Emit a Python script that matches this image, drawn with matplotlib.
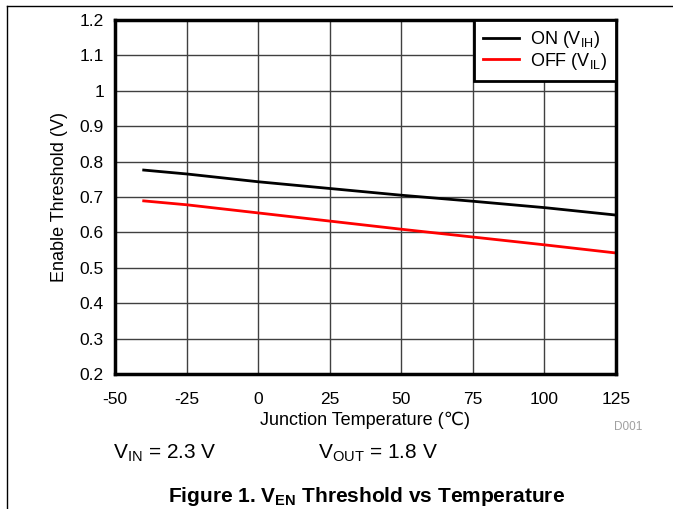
import matplotlib
matplotlib.use("Agg")
import matplotlib.pyplot as plt
from matplotlib.lines import Line2D
from matplotlib.ticker import FuncFormatter

plt.rcParams['font.family'] = ['Liberation Sans', 'DejaVu Sans']
plt.rcParams['axes.unicode_minus'] = False
plt.rcParams['mathtext.fontset'] = 'custom'
plt.rcParams['mathtext.rm'] = 'Liberation Sans'
plt.rcParams['mathtext.it'] = 'Liberation Sans:italic'
plt.rcParams['mathtext.bf'] = 'Liberation Sans:bold'

# --- data ---
temp_c = [-40, -25, 0, 25, 50, 75, 100, 125]
v_on = [0.776, 0.765, 0.743, 0.724, 0.705, 0.688, 0.670, 0.649]
v_off = [0.689, 0.678, 0.655, 0.632, 0.609, 0.587, 0.565, 0.542]
x_ticks = [-50, -25, 0, 25, 50, 75, 100, 125]
y_ticks = [0.2, 0.3, 0.4, 0.5, 0.6, 0.7, 0.8, 0.9, 1.0, 1.1, 1.2]

fig = plt.figure(figsize=(6.73, 5.09), dpi=100)
ax = fig.add_axes([0.171, 0.265, 0.744, 0.696])

ax.plot(temp_c, v_on, color='black', linewidth=2, label=r'ON (V$_{\mathrm{IH}}$)')
ax.plot(temp_c, v_off, color='#ff0000', linewidth=2, label=r'OFF (V$_{\mathrm{IL}}$)')

ax.set_xlim(-50, 125)
ax.set_ylim(0.2, 1.2)
ax.set_xticks(x_ticks)
ax.set_yticks(y_ticks)
ax.yaxis.set_major_formatter(FuncFormatter(lambda v, p: f"{v:g}"))
ax.grid(True, color='#404040', linewidth=1)
ax.set_axisbelow(True)
ax.tick_params(length=0, labelsize=12.5)
ax.tick_params(axis='x', pad=13)
ax.tick_params(axis='y', pad=8)
for s in ax.spines.values():
    s.set_linewidth(2.5)

ax.set_xlabel('Junction Temperature (\u2103)', fontsize=13, labelpad=3)
ax.set_ylabel('Enable Threshold (V)', fontsize=13, labelpad=8)

leg = ax.legend(loc='upper right', fontsize=13, frameon=True, fancybox=False,
                borderaxespad=0, handlelength=2.0, labelspacing=0.05,
                borderpad=0.5, handletextpad=0.6)
leg.get_frame().set_edgecolor('black')
leg.get_frame().set_linewidth(2)
leg.get_frame().set_alpha(1)

fig.text(0.933, 0.161, 'D001', color='#a0a0a0', fontsize=8.5, ha='center', va='center')
fig.text(0.168, 0.110, r'V$_{\mathrm{IN}}$ = 2.3 V', fontsize=15, ha='left', va='center')
fig.text(0.472, 0.110, r'V$_{\mathrm{OUT}}$ = 1.8 V', fontsize=15, ha='left', va='center')
fig.text(0.545, 0.025, r'Figure 1. V$_{\mathbf{EN}}$ Threshold vs Temperature',
         fontsize=15, fontweight='bold', ha='center', va='center')

# page border (top and left)
fig.add_artist(Line2D([0.0105, 1.0], [0.988, 0.988], color='black', linewidth=1,
                      transform=fig.transFigure))
fig.add_artist(Line2D([0.0105, 0.0105], [0.0, 0.988], color='black', linewidth=1,
                      transform=fig.transFigure))

fig.savefig('out.png', dpi=100)
